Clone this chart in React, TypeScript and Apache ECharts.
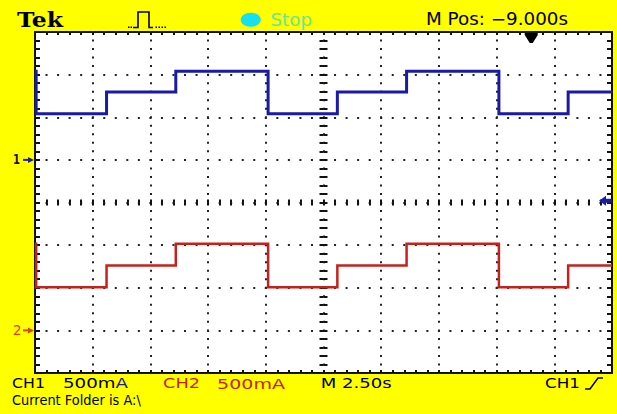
import React, { useEffect, useRef } from "react";
import * as echarts from "echarts";

// Step breakpoints of both current waveforms, seconds from the left edge of the screen
const stepTimes = [0, 0.05, 3.1, 6.1, 10.1, 13.1, 16.1, 20.1, 23.1, 25];
// Current (mA) held from each breakpoint until the next one
const ch1Current = [1040, 540, 795, 1040, 540, 795, 1040, 540, 795, 795];
const ch2Current = [1015, 505, 760, 1015, 505, 760, 1015, 505, 760, 760];

// Scope settings
const secPerDiv = 2.5;
const mAPerDiv = 500;
const ch1GroundDiv = 1; // ground reference, divisions above screen centre
const ch2GroundDiv = -3;
const triggerTime = 21.5; // s, horizontal trigger point (centre + 9.000 s)
const triggerLevel = -480; // mA on CH1

// Readout texts
const statusText = "Stop";
const posText = "M Pos: \u22129.000s";
const ch1Scale = "500mA";
const ch2Scale = "500mA";
const timeScale = "M 2.50s";
const trigSource = "CH1";
const folderText = "Current Folder is A:\\";

const YELLOW = "#ffff00";
const BLUE = "#1a1aa8";
const RED = "#c8201c";
const GRID_L = 35;
const GRID_T = 32;
const GRID_W = 577;
const GRID_H = 341;

const ctx = document.createElement("canvas").getContext("2d")!;
function fit(text: string, font: string, width: number) {
  ctx.font = font;
  return width / ctx.measureText(text).width;
}

function label(text: string, x0: number, x1: number, cy: number, font: string, fill: string, rich?: any) {
  return {
    type: "text",
    x: x0,
    y: cy,
    scaleX: fit(text, font, x1 - x0),
    z: 20,
    style: {
      text: rich ? rich.text : text,
      font,
      fill,
      align: "left",
      verticalAlign: "middle",
      rich: rich ? rich.styles : undefined,
    },
  };
}

export default function App() {
  const ref = useRef<HTMLDivElement>(null);

  useEffect(() => {
    const chart = echarts.init(ref.current!, null, { renderer: "svg" });
    const xMax = secPerDiv * 10;
    const dotX = GRID_W / 50;
    const dotY = GRID_H / 40;
    const tickColor = "#111";

    const xBase = {
      type: "value",
      gridIndex: 0,
      min: 0,
      max: xMax,
      interval: secPerDiv,
      axisLabel: { show: false },
      splitLine: { show: false },
    };
    const ch1Min = (-4 - ch1GroundDiv) * mAPerDiv;
    const ch2Min = (-4 - ch2GroundDiv) * mAPerDiv;
    const yBase = {
      type: "value",
      gridIndex: 0,
      min: ch1Min,
      max: ch1Min + 8 * mAPerDiv,
      interval: mAPerDiv,
      axisLabel: { show: false },
      splitLine: { show: false },
    };
    const ticks = (inside: boolean, length: number) => ({
      axisLine: { show: false, onZero: false },
      axisTick: { show: true, inside, length, lineStyle: { color: tickColor, width: 2 } },
      minorTick: { show: true, splitNumber: 5, length, lineStyle: { color: tickColor, width: 2 } },
    });

    const option: any = {
      animation: false,
      backgroundColor: YELLOW,
      grid: {
        left: GRID_L,
        top: GRID_T,
        width: GRID_W,
        height: GRID_H,
        show: true,
        backgroundColor: "#ffffff",
        borderColor: "#111",
        borderWidth: 2,
      },
      xAxis: [
        {
          ...xBase,
          position: "bottom",
          ...ticks(true, 3),
          splitLine: {
            show: true,
            lineStyle: { color: "#222", width: 2, type: [2, dotY - 2], dashOffset: 1 },
          },
        },
        { ...xBase, position: "top", ...ticks(true, 3) },
        // centre horizontal graticule line: ticks crossing both ways
        { ...xBase, position: "bottom", offset: -GRID_H / 2, ...ticks(true, 3) },
        { ...xBase, position: "bottom", offset: -GRID_H / 2, ...ticks(false, 3) },
      ],
      yAxis: [
        {
          ...yBase,
          position: "left",
          ...ticks(true, 5),
          splitLine: {
            show: true,
            lineStyle: { color: "#222", width: 2, type: [2, dotX - 2], dashOffset: 1 },
          },
        },
        {
          ...yBase,
          min: ch2Min,
          max: ch2Min + 8 * mAPerDiv,
          position: "right",
          ...ticks(true, 5),
        },
        // centre vertical graticule line
        { ...yBase, position: "left", offset: -GRID_W / 2, ...ticks(true, 4) },
        { ...yBase, position: "left", offset: -GRID_W / 2, ...ticks(false, 4) },
      ],
      series: [
        {
          name: "CH1",
          type: "line",
          step: "end",
          xAxisIndex: 0,
          yAxisIndex: 0,
          symbol: "none",
          z: 10,
          lineStyle: { color: BLUE, width: 3, join: "miter" },
          data: stepTimes.map((t, i) => [t, ch1Current[i]]),
        },
        {
          name: "CH2",
          type: "line",
          step: "end",
          xAxisIndex: 0,
          yAxisIndex: 1,
          symbol: "none",
          z: 10,
          lineStyle: { color: RED, width: 2.5, join: "miter" },
          data: stepTimes.map((t, i) => [t, ch2Current[i]]),
        },
      ],
    };
    chart.setOption(option);

    const g1 = chart.convertToPixel({ yAxisIndex: 0 }, 0) as number;
    const g2 = chart.convertToPixel({ yAxisIndex: 1 }, 0) as number;
    const tx = chart.convertToPixel({ xAxisIndex: 0 }, triggerTime) as number;
    const ty = chart.convertToPixel({ yAxisIndex: 0 }, triggerLevel) as number;
    const right = GRID_L + GRID_W;

    const sans = "'DejaVu Sans', sans-serif";
    const foot = `14px ${sans}`;
    const graphic: any[] = [
      // header
      label("Tek", 17, 63, 20, `bold 20px 'DejaVu Serif', serif`, "#000"),
      {
        type: "polyline",
        z: 20,
        shape: { points: [[133, 27.5], [138, 27.5], [138, 12], [149, 12], [149, 27.5], [153, 27.5]] },
        style: { stroke: "#000", lineWidth: 1.6, fill: null },
      },
      ...[128, 130.5, 155.5, 158.5, 161.5, 164.5].map((x) => ({
        type: "rect",
        z: 20,
        shape: { x, y: 26.5, width: 1.5, height: 1.5 },
        style: { fill: "#000" },
      })),
      {
        type: "ellipse",
        z: 20,
        shape: { cx: 250.7, cy: 19.7, rx: 10, ry: 7 },
        style: { fill: "#14e0f0" },
      },
      label(statusText, 270.5, 312, 19.5, `18px ${sans}`, "#6ee39c"),
      label(posText, 426, 568, 19, `17px ${sans}`, "#000"),
      // trigger position marker
      {
        type: "polygon",
        z: 20,
        shape: { points: [[tx - 6.5, GRID_T + 1], [tx + 6.5, GRID_T + 1], [tx + 6.5, GRID_T + 3], [tx + 1.5, GRID_T + 11], [tx - 1.5, GRID_T + 11], [tx - 6.5, GRID_T + 3]] },
        style: { fill: "#000" },
      },
      // trigger level marker
      {
        type: "polygon",
        z: 20,
        shape: { points: [[right - 13, ty], [right - 6, ty - 5], [right - 6, ty + 5]] },
        style: { fill: BLUE },
      },
      {
        type: "rect",
        z: 20,
        shape: { x: right - 7, y: ty - 2, width: 7, height: 4 },
        style: { fill: BLUE },
      },
      // channel ground markers
      label("1", 13, 20, g1, `bold 14px ${sans}`, "#111"),
      {
        type: "polyline",
        z: 20,
        shape: { points: [[23, g1], [30, g1]] },
        style: { stroke: BLUE, lineWidth: 2 },
      },
      {
        type: "polygon",
        z: 20,
        shape: { points: [[28, g1 - 3], [34, g1], [28, g1 + 3]] },
        style: { fill: BLUE },
      },
      label("2", 13, 21.5, g2, `14px ${sans}`, "#e0401a"),
      {
        type: "polyline",
        z: 20,
        shape: { points: [[23, g2], [30, g2]] },
        style: { stroke: "#e0401a", lineWidth: 2 },
      },
      {
        type: "polygon",
        z: 20,
        shape: { points: [[28, g2 - 3], [34, g2], [28, g2 + 3]] },
        style: { fill: "#e0401a" },
      },
      // footer readouts
      label("CH1", 12, 45, 383.5, foot, "#000"),
      label(ch1Scale, 63, 128, 383.5, foot, "#000", {
        text: "500m{u|A}",
        styles: { u: { fill: "#20209a", font: foot } },
      }),
      label("CH2", 163, 200, 383.5, foot, RED),
      label(ch2Scale, 217, 285, 383.5, foot, RED),
      label(timeScale, 320.7, 391.7, 383.5, foot, "#000"),
      label(trigSource, 545, 580, 383.5, foot, "#000"),
      {
        type: "polyline",
        z: 20,
        shape: { points: [[585, 389], [590, 389], [598, 378], [603, 378]] },
        style: { stroke: "#000", lineWidth: 1.5, fill: null },
      },
      label(folderText, 12, 141, 400, foot, "#000"),
    ];
    chart.setOption({ graphic });

    return () => chart.dispose();
  }, []);

  return (
    <div
      ref={ref}
      style={{ position: "fixed", left: 0, top: 0, width: 617, height: 414 }}
    />
  );
}
